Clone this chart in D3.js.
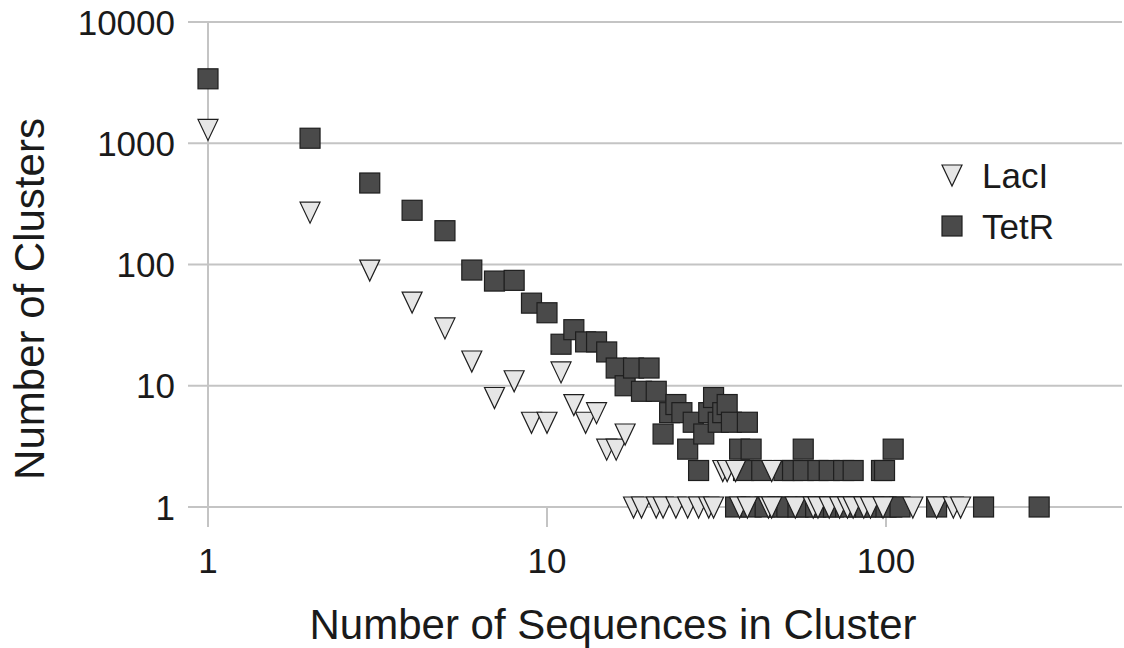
<!DOCTYPE html>
<html>
<head>
<meta charset="utf-8">
<script src="https://cdn.jsdelivr.net/npm/d3@7"></script>
<style>
  html, body { margin: 0; padding: 0; background: #fff; }
  svg text { font-family: "Liberation Sans", Arial, sans-serif; fill: #1a1a1a; }
</style>
</head>
<body>
<svg id="chart" width="1124" height="648"></svg>
<script>
// cluster size (x) and number of clusters of that size (y)
const lacSizes = [1, 2, 3, 4, 5, 6, 7, 8, 9, 10, 11, 12, 13, 14, 15, 16, 17,
  18, 19, 21, 22, 24, 26, 28, 30, 31, 37, 39, 45, 46, 54, 61, 63, 68, 73, 77, 80, 86, 90, 98, 120, 141, 158, 166,
  33, 34, 36, 46];
const lacCounts = [1300, 270, 90, 49, 30, 16, 8, 11, 5, 5, 13, 7, 5, 6, 3, 3, 4,
  1, 1, 1, 1, 1, 1, 1, 1, 1, 1, 1, 1, 1, 1, 1, 1, 1, 1, 1, 1, 1, 1, 1, 1, 1, 1, 1,
  2, 2, 2, 2];

const tetSizes = [1, 2, 3, 4, 5, 6, 7, 8, 9, 10, 11, 12, 13, 14, 15, 16, 17, 18, 19, 20,
  21, 22, 23, 24, 25, 26, 27, 28, 29, 30, 31, 32, 33, 34, 35, 37, 39, 40,
  38, 43, 50, 53, 57, 63, 68, 75, 80, 97, 99,
  57, 105,
  36, 40, 44, 48, 51, 55, 58, 62, 66, 70, 76, 82, 87, 92, 100, 104, 110, 141, 194, 283];
const tetCounts = [3400, 1100, 470, 280, 190, 90, 73, 74, 48, 40, 22, 29, 23, 23, 19, 14, 10, 14, 9, 14,
  9, 4, 6, 7, 6, 3, 5, 2, 4, 6, 8, 5, 6, 7, 5, 3, 5, 3,
  2, 2, 2, 2, 2, 2, 2, 2, 2, 2, 2,
  3, 3,
  1, 1, 1, 1, 1, 1, 1, 1, 1, 1, 1, 1, 1, 1, 1, 1, 1, 1, 1, 1];

const yTicks = [1, 10, 100, 1000, 10000];
const xTicks = [1, 10, 100];
const seriesNames = ['LacI', 'TetR'];

const svg = d3.select('#chart');
const plotLeft = 208;
const plotRight = 1122;

const x = d3.scaleLog().domain([1, 100]).range([plotLeft, 886]);
const y = d3.scaleLog().domain([1, 10000]).range([507, 22]);

// horizontal grid + left ticks
svg.append('g')
  .selectAll('line')
  .data(yTicks)
  .join('line')
  .attr('x1', plotLeft - 20)
  .attr('x2', plotRight)
  .attr('y1', d => y(d))
  .attr('y2', d => y(d))
  .attr('stroke', '#c4c4c4')
  .attr('stroke-width', 2);

// y axis line and x tick marks
svg.append('line')
  .attr('x1', x(1)).attr('x2', x(1))
  .attr('y1', y(10000)).attr('y2', y(1) + 20)
  .attr('stroke', '#c4c4c4').attr('stroke-width', 2);

svg.append('g')
  .selectAll('line')
  .data(xTicks.slice(1))
  .join('line')
  .attr('x1', d => x(d))
  .attr('x2', d => x(d))
  .attr('y1', y(1))
  .attr('y2', y(1) + 20)
  .attr('stroke', '#c4c4c4')
  .attr('stroke-width', 2);

// tick labels
svg.append('g')
  .selectAll('text')
  .data(yTicks)
  .join('text')
  .attr('x', 175)
  .attr('y', d => y(d))
  .attr('dy', '0.36em')
  .attr('text-anchor', 'end')
  .style('font-size', '35px')
  .text(d => d);

svg.append('g')
  .selectAll('text')
  .data(xTicks)
  .join('text')
  .attr('x', d => x(d))
  .attr('y', 573)
  .attr('text-anchor', 'middle')
  .style('font-size', '35px')
  .text(d => d);

// axis titles
svg.append('text')
  .attr('x', 613)
  .attr('y', 639)
  .attr('text-anchor', 'middle')
  .style('font-size', '42px')
  .text('Number of Sequences in Cluster');

svg.append('text')
  .attr('transform', 'translate(44,299) rotate(-90)')
  .attr('text-anchor', 'middle')
  .style('font-size', '42px')
  .text('Number of Clusters');

const triPath = 'M-10,-10L10,-10L0,11Z';

function drawSquare(sel) {
  sel.append('rect')
    .attr('x', -10).attr('y', -10)
    .attr('width', 20).attr('height', 20)
    .attr('fill', '#4a4a4a')
    .attr('stroke', '#1e1e1e')
    .attr('stroke-width', 1.2);
}

function drawTri(sel) {
  sel.append('path')
    .attr('d', triPath)
    .attr('fill', '#e6e6e6')
    .attr('stroke', '#1e1e1e')
    .attr('stroke-width', 1.2);
}

const tetData = tetSizes.map((s, i) => ({ s, c: tetCounts[i] }));
const lacData = lacSizes.map((s, i) => ({ s, c: lacCounts[i] }));

// TetR goes under LacI
svg.append('g')
  .selectAll('g')
  .data(tetData)
  .join('g')
  .attr('transform', d => `translate(${x(d.s)},${y(d.c)})`)
  .call(drawSquare);

svg.append('g')
  .selectAll('g')
  .data(lacData)
  .join('g')
  .attr('transform', d => `translate(${x(d.s)},${y(d.c)})`)
  .call(drawTri);

// legend
const legend = svg.append('g')
  .selectAll('g')
  .data(seriesNames)
  .join('g')
  .attr('transform', (d, i) => `translate(952,${175 + i * 51})`);

legend.filter(d => d === 'LacI').call(drawTri);
legend.filter(d => d === 'TetR').call(drawSquare);

legend.append('text')
  .attr('x', 30)
  .attr('dy', '0.36em')
  .style('font-size', '35px')
  .text(d => d);
</script>
</body>
</html>
